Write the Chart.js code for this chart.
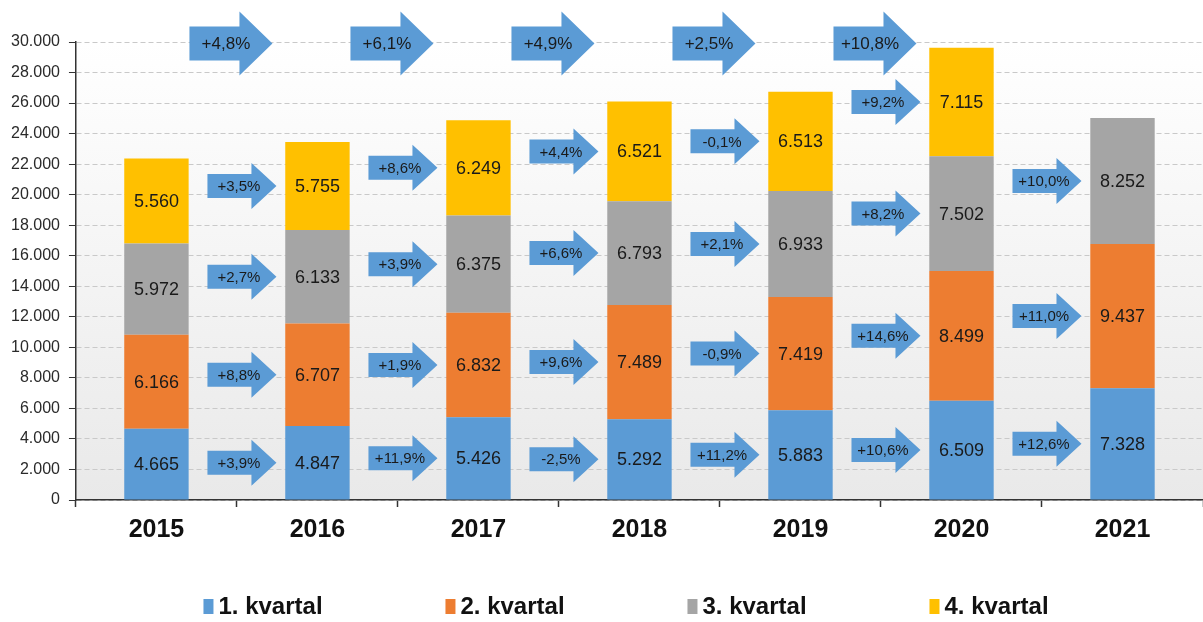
<!DOCTYPE html>
<html>
<head>
<meta charset="utf-8">
<title>Kvartal</title>
<script src="https://cdn.jsdelivr.net/npm/chart.js"></script>
<style>
  html, body { margin: 0; padding: 0; background: #fff; }
  #wrap { width: 1203px; height: 622px; position: relative; }
</style>
</head>
<body>
<div id="wrap"><canvas id="chart"></canvas></div>
<script>
// values per quarter
const years = ['2015', '2016', '2017', '2018', '2019', '2020', '2021'];
const q1 = [4665, 4847, 5426, 5292, 5883, 6509, 7328];
const q2 = [6166, 6707, 6832, 7489, 7419, 8499, 9437];
const q3 = [5972, 6133, 6375, 6793, 6933, 7502, 8252];
const q4 = [5560, 5755, 6249, 6521, 6513, 7115, null];

// growth vs. previous year (arrow labels)
const growthQ1 = ['+3,9%', '+11,9%', '-2,5%', '+11,2%', '+10,6%', '+12,6%'];
const growthQ2 = ['+8,8%', '+1,9%', '+9,6%', '-0,9%', '+14,6%', '+11,0%'];
const growthQ3 = ['+2,7%', '+3,9%', '+6,6%', '+2,1%', '+8,2%', '+10,0%'];
const growthQ4 = ['+3,5%', '+8,6%', '+4,4%', '-0,1%', '+9,2%'];
const growthTotal = ['+4,8%', '+6,1%', '+4,9%', '+2,5%', '+10,8%'];

const seriesNames = ['1. kvartal', '2. kvartal', '3. kvartal', '4. kvartal'];
const colors = ['#5b9bd5', '#ed7d31', '#a5a5a5', '#ffc000'];
const FONT = "'Liberation Sans', Arial, sans-serif";

function fmt(v) {
    return String(Math.round(v)).replace(/\B(?=(\d{3})+(?!\d))/g, '.');
}

function drawArrow(ctx, cx, cy, w, headLen, bodyH, headH) {
    const x0 = cx - w / 2, x1 = cx + w / 2, xb = x1 - headLen;
    ctx.beginPath();
    ctx.moveTo(x0, cy - bodyH / 2);
    ctx.lineTo(xb, cy - bodyH / 2);
    ctx.lineTo(xb, cy - headH / 2);
    ctx.lineTo(x1, cy);
    ctx.lineTo(xb, cy + headH / 2);
    ctx.lineTo(xb, cy + bodyH / 2);
    ctx.lineTo(x0, cy + bodyH / 2);
    ctx.closePath();
    ctx.fill();
}

const bgPlugin = {
    id: 'bg',
    beforeDraw(chart) {
        const { ctx, chartArea: a } = chart;
        const g = ctx.createLinearGradient(0, a.top, 0, a.bottom);
        g.addColorStop(0, '#ffffff');
        g.addColorStop(1, '#e9e9e9');
        ctx.save();
        ctx.fillStyle = g;
        ctx.fillRect(a.left, a.top, a.right - a.left, a.bottom - a.top);
        ctx.restore();
    }
};

const labelPlugin = {
    id: 'labels',
    afterDatasetsDraw(chart) {
        const ctx = chart.ctx;
        const xs = chart.scales.x, ys = chart.scales.y;
        const boundary = i => (xs.getPixelForValue(i) + xs.getPixelForValue(i + 1)) / 2;
        ctx.save();
        ctx.textAlign = 'center';
        ctx.textBaseline = 'middle';
        ctx.fillStyle = '#1a1a1a';

        // value labels inside segments
        ctx.font = '18px ' + FONT;
        chart.data.datasets.forEach((ds, di) => {
            chart.getDatasetMeta(di).data.forEach((bar, i) => {
                if (ds.data[i] == null) return;
                ctx.fillText(fmt(ds.data[i]), bar.x, (bar.y + bar.base) / 2 + 1);
            });
        });

        // quarter growth arrows, level with the next year's segment
        const growth = [growthQ1, growthQ2, growthQ3, growthQ4];
        growth.forEach((list, di) => {
            const bars = chart.getDatasetMeta(di).data;
            list.forEach((txt, i) => {
                const bar = bars[i + 1];
                const cy = (bar.y + bar.base) / 2;
                const cx = boundary(i) + 5;
                ctx.fillStyle = '#5b9bd5';
                drawArrow(ctx, cx, cy, 69, 25, 24, 46);
                ctx.fillStyle = '#1a1a1a';
                ctx.font = '15px ' + FONT;
                ctx.fillText(txt, cx - 3, cy + 1);
            });
        });

        // yearly total growth arrows along the top
        growthTotal.forEach((txt, i) => {
            const cx = boundary(i) - 6;
            const cy = ys.getPixelForValue(29900);
            ctx.fillStyle = '#5b9bd5';
            drawArrow(ctx, cx, cy, 83, 33, 34, 64);
            ctx.fillStyle = '#1a1a1a';
            ctx.font = '17px ' + FONT;
            ctx.fillText(txt, cx - 5, cy + 1);
        });
        ctx.restore();
    }
};

const legendPlugin = {
    id: 'legendRow',
    afterDraw(chart) {
        const ctx = chart.ctx;
        const a = chart.chartArea;
        const step = 242;
        const start = (a.left + a.right) / 2 - 436;
        const y = 606;
        ctx.save();
        ctx.font = 'bold 24px ' + FONT;
        ctx.textBaseline = 'middle';
        ctx.textAlign = 'left';
        chart.data.datasets.forEach((ds, i) => {
            const x = start + i * step;
            ctx.fillStyle = ds.backgroundColor;
            ctx.fillRect(x, y - 7, 10, 15);
            ctx.fillStyle = '#111';
            ctx.fillText(ds.label, x + 15, y + 1);
        });
        ctx.restore();
    }
};

const datasets = [q1, q2, q3, q4].map((d, i) => ({
    label: seriesNames[i],
    data: d,
    backgroundColor: colors[i],
    borderWidth: 0,
    barPercentage: 0.8,
    categoryPercentage: 0.5
}));

new Chart(document.getElementById('chart'), {
    type: 'bar',
    data: { labels: years, datasets: datasets },
    options: {
        responsive: true,
        maintainAspectRatio: false,
        animation: false,
        layout: { padding: { top: 42, right: 0, left: 2, bottom: 69 } },
        plugins: {
            legend: { display: false },
            tooltip: { enabled: false }
        },
        scales: {
            x: {
                stacked: true,
                grid: { offset: true, drawOnChartArea: false, tickLength: 7, tickColor: '#333', tickWidth: 1.5 },
                border: { color: '#333', width: 1.5 },
                ticks: { color: '#111', padding: 8, font: { family: FONT, size: 25, weight: 'bold' } }
            },
            y: {
                stacked: true,
                min: 0,
                max: 30000,
                grid: { color: '#c9c9c9', tickColor: '#333', tickLength: 7, tickBorderDash: [], lineWidth: 1 },
                border: { color: '#333', width: 1.5, dash: [5, 3] },
                ticks: {
                    stepSize: 2000,
                    padding: 9,
                    color: '#2a2a2a',
                    font: { family: FONT, size: 16 },
                    callback: v => fmt(v)
                }
            }
        }
    },
    plugins: [bgPlugin, labelPlugin, legendPlugin]
});
</script>
</body>
</html>
